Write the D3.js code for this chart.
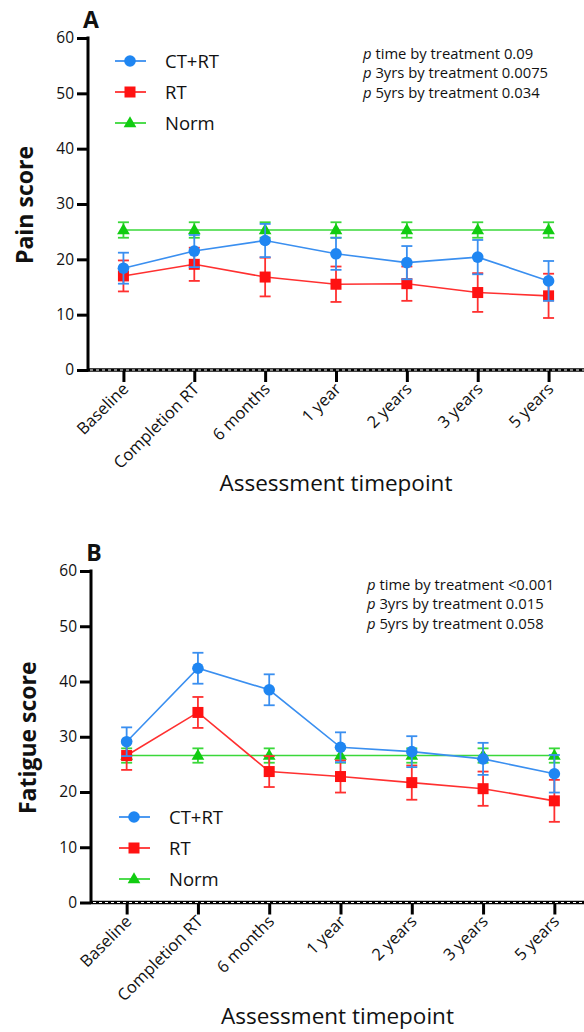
<!DOCTYPE html>
<html>
<head>
<meta charset="utf-8">
<title>Pain and fatigue scores</title>
<script src="https://cdn.jsdelivr.net/npm/d3@7"></script>
<style>
body { margin: 0; background: #fff; }
text { font-family: "Open Sans", "Noto Sans", sans-serif; fill: #111; }
</style>
</head>
<body>
<svg id="chart" width="584" height="1032"></svg>
<script>
// timepoints on the x axis
var timepoints = ["Baseline", "Completion RT", "6 months", "1 year", "2 years", "3 years", "5 years"];
var yTicks = [0, 10, 20, 30, 40, 50, 60];
var seriesNames = ["CT+RT", "RT", "Norm"];

// panel A - pain
var painCtrt = [18.4, 21.5, 23.4, 21.0, 19.4, 20.4, 16.1];
var painCtrtErr = [2.8, 2.9, 3.0, 2.9, 3.0, 3.1, 3.6];
var painRt = [17.0, 19.1, 16.8, 15.5, 15.6, 14.0, 13.4];
var painRtErr = [2.8, 3.0, 3.5, 3.2, 3.1, 3.5, 4.0];
var painNorm = [25.3, 25.3, 25.3, 25.3, 25.3, 25.3, 25.3];
var painNormErr = [1.4, 1.4, 1.4, 1.4, 1.4, 1.4, 1.4];
var painNotes = ["time by treatment 0.09", "3yrs by treatment 0.0075", "5yrs by treatment 0.034"];

// panel B - fatigue
var fatCtrt = [29.1, 42.4, 38.5, 28.1, 27.3, 26.0, 23.3];
var fatCtrtErr = [2.6, 2.8, 2.8, 2.7, 2.8, 2.9, 3.4];
var fatRt = [26.6, 34.4, 23.7, 22.8, 21.7, 20.6, 18.4];
var fatRtErr = [2.6, 2.8, 2.8, 2.9, 3.1, 3.1, 3.8];
var fatNorm = [26.6, 26.6, 26.6, 26.6, 26.6, 26.6, 26.6];
var fatNormErr = [1.3, 1.3, 1.3, 1.3, 1.3, 1.3, 1.3];
var fatNotes = ["time by treatment <0.001", "3yrs by treatment 0.015", "5yrs by treatment 0.058"];

var colors = {"CT+RT": "#1f86f2", "RT": "#ff1212", "Norm": "#22cc22"};
var lineColors = {"CT+RT": "#3a8ff0", "RT": "#ff3030", "Norm": "#3ad83a"};

var svg = d3.select("#chart");

function marker(g, name, x, y) {
    if (name === "CT+RT") {
        g.append("circle").attr("cx", x).attr("cy", y).attr("r", 5.8).attr("fill", colors[name]);
    } else if (name === "RT") {
        g.append("rect").attr("x", x - 5.5).attr("y", y - 5.5).attr("width", 11).attr("height", 11).attr("fill", colors[name]);
    } else {
        g.append("path")
            .attr("d", d3.symbol().type(d3.symbolTriangle).size(70)())
            .attr("transform", "translate(" + x + "," + (y + 0.5) + ")")
            .attr("fill", "#11cc11");
    }
}

function drawPanel(p) {
    var g = svg.append("g");
    var x = d3.scalePoint().domain(timepoints).range([p.left, p.right]).padding(0.5);
    var y = d3.scaleLinear().domain([0, 60]).range([p.bottom, p.top]);

    // y axis
    var yAx = g.append("g").attr("transform", "translate(" + p.left + ",0)")
        .call(d3.axisLeft(y).tickValues(yTicks).tickSize(11).tickPadding(3));
    yAx.select(".domain").remove();
    yAx.selectAll(".tick line").attr("stroke", "#000").attr("stroke-width", 3);
    yAx.selectAll(".tick text").attr("font-size", 15.5).attr("font-family", "Open Sans").attr("fill", "#111");
    g.append("line").attr("x1", p.left).attr("x2", p.left)
        .attr("y1", y(60) - 1.5).attr("y2", p.bottom + 1.5)
        .attr("stroke", "#000").attr("stroke-width", 3);

    // x axis
    var xAx = g.append("g").attr("transform", "translate(0," + p.bottom + ")")
        .call(d3.axisBottom(x).tickSize(12).tickFormat(""));
    xAx.select(".domain").remove();
    xAx.selectAll(".tick line").attr("stroke", "#000").attr("stroke-width", 3);
    g.append("line").attr("x1", p.left).attr("x2", 584)
        .attr("y1", p.bottom).attr("y2", p.bottom)
        .attr("stroke", "#000").attr("stroke-width", 3.5);
    g.append("line").attr("x1", p.left + 2).attr("x2", 584)
        .attr("y1", p.bottom).attr("y2", p.bottom)
        .attr("stroke", "#fff").attr("stroke-width", 1).attr("stroke-dasharray", "3,3");

    g.selectAll(".xlab").data(timepoints).enter().append("text")
        .attr("class", "xlab")
        .attr("transform", function(d) { return "translate(" + (x(d) + 6) + "," + (p.bottom + 20) + ") rotate(-45)"; })
        .attr("text-anchor", "end")
        .attr("font-size", 16.5)
        .text(function(d) { return d; });

    g.append("text")
        .attr("x", (p.left + 584) / 2).attr("y", p.bottom + 121)
        .attr("text-anchor", "middle").attr("font-size", 22.5)
        .text("Assessment timepoint");

    g.append("text")
        .attr("transform", "translate(" + (p.left - 55) + "," + ((y(0) + y(60)) / 2 + 1) + ") rotate(-90)")
        .attr("text-anchor", "middle").attr("font-size", 23).attr("font-weight", "bold")
        .text(p.ylabel);

    g.append("text").attr("x", p.left + 3).attr("y", y(60) - 10)
        .attr("text-anchor", "middle").attr("font-size", 23).attr("font-weight", "bold")
        .attr("font-family", "Liberation Sans")
        .text(p.letter);

    // p-value notes
    p.notes.forEach(function(n, i) {
        var t = g.append("text").attr("x", p.noteX).attr("y", p.noteY + i * 19.3).attr("font-size", 14.8);
        t.append("tspan").attr("font-style", "italic").text("p");
        t.append("tspan").text(" " + n);
    });

    // series
    var series = [
        {name: "Norm", v: p.norm, e: p.normErr},
        {name: "RT", v: p.rt, e: p.rtErr},
        {name: "CT+RT", v: p.ctrt, e: p.ctrtErr}
    ];
    var line = d3.line().x(function(d, i) { return x(timepoints[i]); }).y(function(d) { return y(d); });
    series.forEach(function(s) {
        var sg = g.append("g");
        s.v.forEach(function(v, i) {
            var cx = x(timepoints[i]);
            sg.append("line").attr("x1", cx).attr("x2", cx)
                .attr("y1", y(v + s.e[i])).attr("y2", y(v - s.e[i]))
                .attr("stroke", lineColors[s.name]).attr("stroke-width", 1.8);
            [v + s.e[i], v - s.e[i]].forEach(function(e) {
                sg.append("line").attr("x1", cx - 5.5).attr("x2", cx + 5.5)
                    .attr("y1", y(e)).attr("y2", y(e))
                    .attr("stroke", lineColors[s.name]).attr("stroke-width", 1.8);
            });
        });
        sg.append("path").datum(s.v).attr("d", line)
            .attr("fill", "none").attr("stroke", lineColors[s.name]).attr("stroke-width", 1.6);
        s.v.forEach(function(v, i) { marker(sg, s.name, x(timepoints[i]), y(v)); });
    });

    // legend
    seriesNames.forEach(function(name, i) {
        var ly = p.legY + i * 31;
        g.append("line").attr("x1", p.legX - 15).attr("x2", p.legX + 16)
            .attr("y1", ly).attr("y2", ly)
            .attr("stroke", lineColors[name]).attr("stroke-width", 1.8);
        marker(g, name, p.legX, ly);
        g.append("text").attr("x", p.legX + 35).attr("y", ly + 6.5)
            .attr("font-size", 18.5).text(name);
    });
}

drawPanel({
    letter: "A", ylabel: "Pain score",
    left: 88, right: 584, top: 38, bottom: 370,
    ctrt: painCtrt, ctrtErr: painCtrtErr, rt: painRt, rtErr: painRtErr,
    norm: painNorm, normErr: painNormErr,
    notes: painNotes, noteX: 363, noteY: 59,
    legX: 130, legY: 61
});

drawPanel({
    letter: "B", ylabel: "Fatigue score",
    left: 91, right: 590, top: 571, bottom: 902.5,
    ctrt: fatCtrt, ctrtErr: fatCtrtErr, rt: fatRt, rtErr: fatRtErr,
    norm: fatNorm, normErr: fatNormErr,
    notes: fatNotes, noteX: 367, noteY: 590,
    legX: 134, legY: 817
});
</script>
</body>
</html>
